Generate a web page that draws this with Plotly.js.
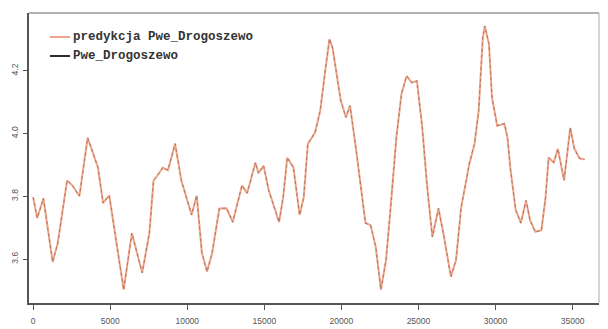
<!DOCTYPE html>
<html><head><meta charset="utf-8">
<script src="https://cdn.plot.ly/plotly-3.0.1.min.js"></script>
<style>html,body{margin:0;padding:0;background:#fff}#chart{width:608px;height:329px}</style>
</head><body><div id="chart"></div>
<script>
const czas = [0,267,668,1268,1602,2203,2537,3004,3538,4206,4540,4940,5408,5875,6409,7077,7544,7811,8078,8412,8746,9213,9613,10281,10615,10949,11282,11616,12084,12551,12951,13552,13886,14420,14620,14954,15288,15956,16223,16490,16890,17291,17558,17825,18292,18626,18893,19227,19427,19961,20295,20562,20963,21563,21897,22231,22565,22899,23233,23566,23900,24234,24568,24901,25235,25569,25903,26303,26637,27105,27438,27772,28306,28640,28907,29174,29308,29575,29775,30109,30577,30777,30977,31311,31645,31978,32245,32579,32980,33247,33447,33781,34048,34449,34849,35116,35450,35784];
const pwe = [3.797,3.730,3.794,3.590,3.651,3.851,3.835,3.800,3.987,3.892,3.778,3.803,3.651,3.502,3.683,3.556,3.683,3.851,3.867,3.892,3.883,3.968,3.851,3.740,3.803,3.619,3.559,3.619,3.762,3.762,3.717,3.835,3.810,3.908,3.873,3.898,3.819,3.717,3.797,3.924,3.892,3.740,3.797,3.968,4.003,4.073,4.178,4.302,4.273,4.105,4.051,4.089,3.946,3.714,3.708,3.638,3.502,3.597,3.787,3.987,4.127,4.184,4.162,4.168,4.025,3.829,3.670,3.762,3.676,3.543,3.597,3.765,3.905,3.968,4.073,4.305,4.343,4.286,4.114,4.025,4.032,3.987,3.883,3.756,3.714,3.787,3.724,3.686,3.692,3.797,3.924,3.908,3.952,3.851,4.019,3.952,3.921,3.917];
const predykcja = [3.797,3.731,3.793,3.591,3.652,3.850,3.835,3.801,3.986,3.892,3.779,3.803,3.652,3.503,3.682,3.557,3.683,3.850,3.867,3.891,3.883,3.967,3.851,3.741,3.802,3.620,3.560,3.619,3.761,3.762,3.718,3.834,3.810,3.907,3.874,3.897,3.819,3.718,3.796,3.923,3.892,3.741,3.797,3.967,4.003,4.072,4.177,4.301,4.273,4.105,4.052,4.088,3.946,3.715,3.708,3.639,3.503,3.597,3.786,3.986,4.126,4.183,4.162,4.167,4.025,3.830,3.671,3.761,3.677,3.544,3.597,3.764,3.904,3.967,4.072,4.304,4.342,4.285,4.114,4.025,4.031,3.987,3.883,3.757,3.715,3.786,3.724,3.687,3.692,3.796,3.923,3.908,3.951,3.851,4.018,3.952,3.921,3.917];
const xTicks = [0,5000,10000,15000,20000,25000,30000,35000];
const yTicks = [3.6,3.8,4.0,4.2];
const yTickText = ['3.6','3.8','4.0','4.2'];
const seriesNames = ['predykcja Pwe_Drogoszewo','Pwe_Drogoszewo'];
const seriesColors = ['#f2a488','#2e2e2e'];

const traces = [
  {x: czas, y: predykcja, type:'scatter', mode:'lines', name: seriesNames[0],
   line:{color: seriesColors[0], width:2}},
  {x: czas, y: pwe, type:'scatter', mode:'lines', name: seriesNames[1],
   line:{color: seriesColors[1], width:0.7, dash:'dot'}, opacity:0.55}
];

const layout = {
  width:608, height:329,
  margin:{l:29, r:9, t:13, b:26},
  paper_bgcolor:'#ffffff', plot_bgcolor:'#ffffff',
  showlegend:false,
  font:{family:'Liberation Sans, Arial, sans-serif', color:'#444'},
  xaxis:{range:[-267,36715], tickvals:xTicks, ticktext:xTicks.map(String),
    ticks:'outside', ticklen:5, tickcolor:'#555', showgrid:false, zeroline:false,
    showline:true, linecolor:'#555', linewidth:2, ticklabelstandoff:4,
    tickfont:{size:8.5, color:'#555'}},
  yaxis:{range:[3.46,4.384], tickvals:yTicks, ticktext:yTickText, tickangle:-90,
    ticks:'outside', ticklen:4, tickcolor:'#555', showgrid:false, zeroline:false,
    showline:true, linecolor:'#555', linewidth:2, ticklabelstandoff:2,
    tickfont:{size:8.5, color:'#555'}},
  shapes:[
    {type:'line', xref:'paper', yref:'paper', x0:0, x1:1, y0:1, y1:1, line:{color:'#999', width:1.5}},
    {type:'line', xref:'paper', yref:'paper', x0:1, x1:1, y0:0, y1:1, line:{color:'#aaa', width:1}},
    {type:'line', xref:'paper', yref:'paper', x0:21/570, x1:41/570, y0:(303-37)/290, y1:(303-37)/290, line:{color:seriesColors[0], width:2}},
    {type:'line', xref:'paper', yref:'paper', x0:21/570, x1:41/570, y0:(303-56)/290, y1:(303-56)/290, line:{color:seriesColors[1], width:2}}
  ],
  annotations:[
    {xref:'paper', yref:'paper', x:42/570, y:(303-37)/290, xanchor:'left', yanchor:'middle', showarrow:false,
     text:'<b>'+seriesNames[0]+'</b>', font:{family:'Liberation Mono, DejaVu Sans Mono, monospace', size:12.5, color:'#333'}},
    {xref:'paper', yref:'paper', x:42/570, y:(303-56)/290, xanchor:'left', yanchor:'middle', showarrow:false,
     text:'<b>'+seriesNames[1]+'</b>', font:{family:'Liberation Mono, DejaVu Sans Mono, monospace', size:12.5, color:'#333'}}
  ]
};
Plotly.newPlot('chart', traces, layout, {displayModeBar:false, staticPlot:true});
</script></body></html>
